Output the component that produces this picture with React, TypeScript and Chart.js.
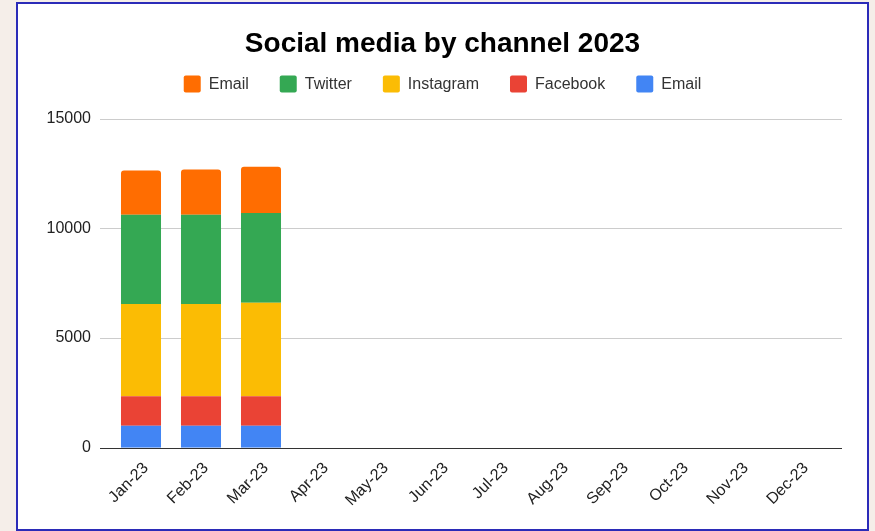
import React, { useEffect, useRef } from "react";
import { Chart, registerables } from "chart.js";

Chart.register(...registerables);

const months = ["Jan-23", "Feb-23", "Mar-23", "Apr-23", "May-23", "Jun-23", "Jul-23", "Aug-23", "Sep-23", "Oct-23", "Nov-23", "Dec-23"];
const emailBlue = [1000, 1000, 1000, null, null, null, null, null, null, null, null, null];
const facebook = [1340, 1340, 1340, null, null, null, null, null, null, null, null, null];
const instagram = [4210, 4210, 4270, null, null, null, null, null, null, null, null, null];
const twitter = [4070, 4070, 4090, null, null, null, null, null, null, null, null, null];
const emailOrange = [2010, 2055, 2110, null, null, null, null, null, null, null, null, null];
const yTicks = [0, 5000, 10000, 15000];

const FONT = "'Liberation Sans', Arial, Helvetica, sans-serif";

const gridPlugin = {
  id: "extGrid",
  beforeLayout(chart: any) {
    const lg = chart.legend;
    if (lg && !lg._extraWrapped) {
      const orig = lg.fit.bind(lg);
      lg.fit = function () {
        orig();
        this.height += 16;
      };
      lg._extraWrapped = true;
    }
  },
  afterLayout(chart: any) {
    // let the y tick labels extend into the left padding without being clipped
    if (chart.scales.y) chart.scales.y.left = 0;
  },
  beforeDatasetsDraw(chart: any) {
    const { ctx, chartArea, scales } = chart;
    ctx.save();
    ctx.strokeStyle = "#cccccc";
    ctx.lineWidth = 1;
    yTicks.forEach((v) => {
      if (v === 0) return;
      const y = Math.round(scales.y.getPixelForValue(v)) + 0.5;
      ctx.beginPath();
      ctx.moveTo(chartArea.left - 11, y);
      ctx.lineTo(chartArea.right + 11, y);
      ctx.stroke();
    });
    ctx.restore();
  },
  afterDatasetsDraw(chart: any) {
    const { ctx, chartArea, scales } = chart;
    ctx.save();
    ctx.strokeStyle = "#333333";
    ctx.lineWidth = 1;
    const y = Math.round(scales.y.getPixelForValue(0)) + 0.5;
    ctx.beginPath();
    ctx.moveTo(chartArea.left - 11, y);
    ctx.lineTo(chartArea.right + 11, y);
    ctx.stroke();
    ctx.restore();
  },
};

export default function App() {
  const ref = useRef<HTMLCanvasElement | null>(null);
  useEffect(() => {
    if (!ref.current) return;
    const mk = (label: string, data: any[], color: string, top = false) => ({
      label,
      data,
      backgroundColor: color,
      borderWidth: 0,
      borderRadius: top ? 3 : 0,
      barPercentage: 0.667,
      categoryPercentage: 1,
    });
    const chart = new Chart(ref.current, {
      type: "bar",
      data: {
        labels: months,
        datasets: [
          mk("Email", emailBlue, "#4285f4"),
          mk("Facebook", facebook, "#ea4335"),
          mk("Instagram", instagram, "#fbbc04"),
          mk("Twitter", twitter, "#34a853"),
          mk("Email", emailOrange, "#ff6d01", true),
        ],
      },
      options: {
        animation: false,
        responsive: false,
        layout: { padding: { top: 13, left: 36, right: 36, bottom: 8 } },
        plugins: {
          title: {
            display: true,
            text: "Social media by channel 2023",
            color: "#000",
            font: { family: FONT, size: 28, weight: "bold" },
            padding: { top: 10, bottom: -16 },
          },
          legend: {
            reverse: true,
            labels: {
              color: "#333",
              font: { family: FONT, size: 16 },
              boxWidth: 17,
              boxHeight: 17,
              useBorderRadius: true,
              borderRadius: 2,
              padding: 31,
            },
          },
          tooltip: { enabled: false },
        },
        scales: {
          x: {
            stacked: true,
            grid: { display: false, drawTicks: false },
            border: { display: false },
            ticks: {
              color: "#222",
              font: { family: FONT, size: 16 },
              maxRotation: 45,
              minRotation: 45,
              padding: 11,
              labelOffset: 5,
            },
          },
          y: {
            stacked: true,
            min: 0,
            max: 15000,
            grid: { display: false, drawTicks: false },
            border: { display: false },
            afterFit: (s: any) => {
              s.width = 57;
            },
            ticks: {
              stepSize: 5000,
              color: "#222",
              font: { family: FONT, size: 16 },
              padding: 20,
              callback: (v: any) => String(v),
            },
          },
        },
      },
      plugins: [gridPlugin],
    } as any);
    return () => chart.destroy();
  }, []);
  return (
    <div style={{ position: "absolute", left: 0, top: 0, width: 875, height: 531, background: "#f5eee9" }}>
      <div
        style={{
          position: "absolute",
          left: 16,
          top: 2,
          width: 853,
          height: 529,
          boxSizing: "border-box",
          border: "2px solid #2b2bb8",
          background: "#fff",
        }}
      >
        <canvas ref={ref} width={849} height={525} style={{ display: "block", width: 849, height: 525 }} />
      </div>
    </div>
  );
}
